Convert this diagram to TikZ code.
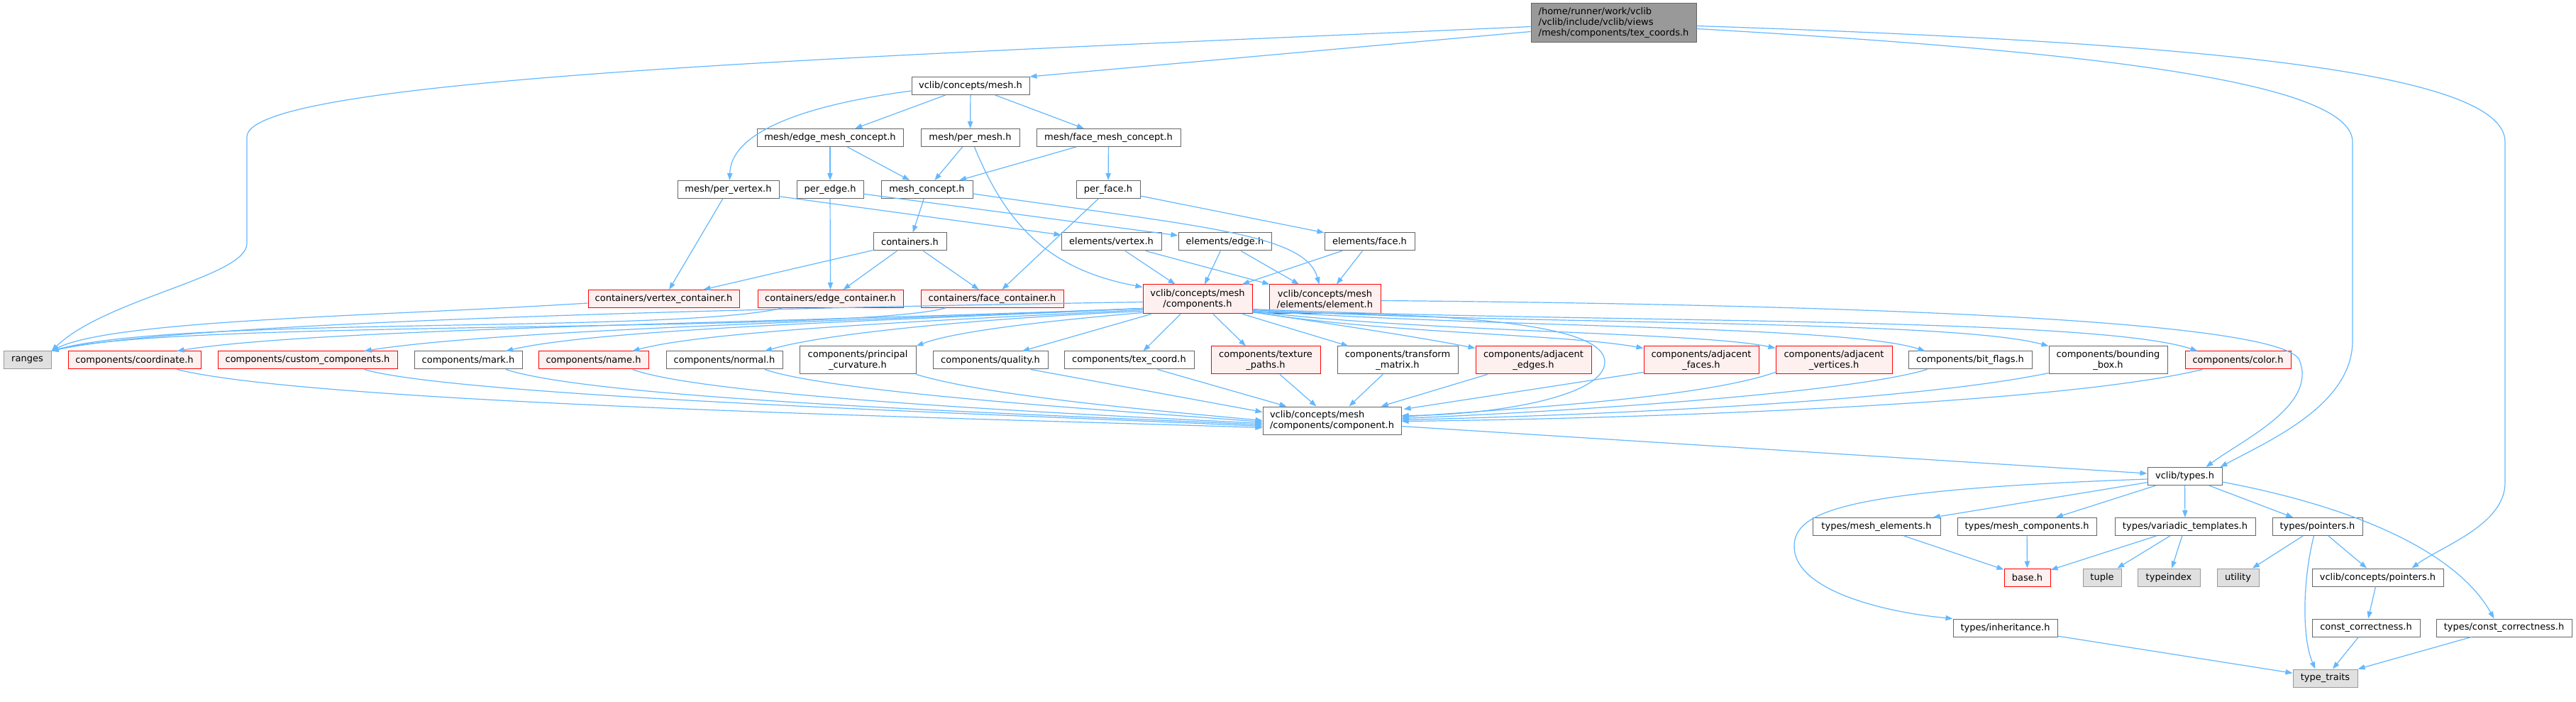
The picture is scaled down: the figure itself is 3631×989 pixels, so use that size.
\documentclass[tikz,border=0pt]{standalone}
\usepackage{fontspec}
\setmainfont{DejaVu Sans}
\usepackage{tikz}
\usetikzlibrary{arrows.meta, calc}
\definecolor{depblue}{HTML}{63B8FF}
\definecolor{fileborder}{HTML}{666666}
\definecolor{redfill}{HTML}{FFF0F0}
\definecolor{sysfill}{HTML}{E0E0E0}
\definecolor{sysborder}{HTML}{999999}
\definecolor{topfill}{HTML}{999999}
\tikzset{
  hfile/.style={rectangle, draw=fileborder, fill=white, line width=0.5pt, font=\fontsize{6.5}{7.5}\selectfont, inner xsep=2pt, inner ysep=1pt, align=center, minimum height=12.5pt},
  redfile/.style={hfile, draw=red, fill=redfill},
  sysfile/.style={hfile, draw=sysborder, fill=sysfill},
  topfile/.style={hfile, fill=topfill, align=left},
  dep/.style={draw=depblue, line width=0.6pt, -{Triangle[length=5pt,width=3.6pt]}},
}

\begin{document}
\begin{tikzpicture}[x=0.5pt, y=-0.5pt]
    \fill[white] (0,0) rectangle (3631,989);
    % included file
    \node[topfile, minimum width=116.5pt, minimum height=27.5pt] (top) at (2274.5,32.5) {/home/runner/work/vclib\\/vclib/include/vclib/views\\/mesh/components/tex\_coords.h};
    % concepts
    \node[hfile, minimum width=83pt] (cmesh) at (1368,121) {vclib/concepts/mesh.h};
    \node[hfile, minimum width=103pt] (edgemc) at (1170,194) {mesh/edge\_mesh\_concept.h};
    \node[hfile, minimum width=69.5pt] (permesh) at (1367.5,194) {mesh/per\_mesh.h};
    \node[hfile, minimum width=101.5pt] (facemc) at (1562.5,194) {mesh/face\_mesh\_concept.h};
    \node[hfile, minimum width=71.5pt] (pervertex) at (1026.5,267) {mesh/per\_vertex.h};
    \node[hfile, minimum width=47pt] (peredge) at (1170,267) {per\_edge.h};
    \node[hfile, minimum width=64.5pt] (meshconcept) at (1306.5,267) {mesh\_concept.h};
    \node[hfile, minimum width=45pt] (perface) at (1562,267) {per\_face.h};
    \node[hfile, minimum width=51.5pt] (containers) at (1282.5,340.5) {containers.h};
    \node[hfile, minimum width=70.5pt] (elvertex) at (1566.5,340.5) {elements/vertex.h};
    \node[hfile, minimum width=65.5pt] (eledge) at (1726.5,340.5) {elements/edge.h};
    \node[hfile, minimum width=63.5pt] (elface) at (1930.5,340.5) {elements/face.h};
    \node[redfile, minimum width=106.5pt] (vertexcont) at (935.5,421) {containers/vertex\_container.h};
    \node[redfile, minimum width=102.5pt] (edgecont) at (1170.5,421) {containers/edge\_container.h};
    \node[redfile, minimum width=100.5pt] (facecont) at (1398.5,421) {containers/face\_container.h};
    \node[redfile, minimum width=77pt, minimum height=20.5pt] (comps) at (1688,421.5) {vclib/concepts/mesh\\/components.h};
    \node[redfile, minimum width=78.5pt, minimum height=20.5pt] (element) at (1867.5,421.5) {vclib/concepts/mesh\\/elements/element.h};
    % components
    \node[sysfile, minimum width=33.5pt] (ranges) at (38.5,507.5) {ranges};
    \node[redfile, minimum width=93.5pt] (coord) at (189.5,507.5) {components/coordinate.h};
    \node[redfile, minimum width=126.5pt] (custom) at (433.5,507.5) {components/custom\_components.h};
    \node[hfile, minimum width=76pt] (mark) at (660,507.5) {components/mark.h};
    \node[redfile, minimum width=77.5pt] (name) at (836.5,507.5) {components/name.h};
    \node[hfile, minimum width=82pt] (normal) at (1021,507.5) {components/normal.h};
    \node[hfile, minimum width=82pt, minimum height=19.5pt] (principal) at (1209,507.5) {components/principal\\\_curvature.h};
    \node[hfile, minimum width=81pt] (quality) at (1396,507.5) {components/quality.h};
    \node[hfile, minimum width=91.5pt] (texcoord) at (1591.5,507.5) {components/tex\_coord.h};
    \node[redfile, minimum width=77pt, minimum height=19.5pt] (texpaths) at (1784,507.5) {components/texture\\\_paths.h};
    \node[hfile, minimum width=85pt, minimum height=19.5pt] (transform) at (1970,507.5) {components/transform\\\_matrix.h};
    \node[redfile, minimum width=81.5pt, minimum height=19.5pt] (adjedges) at (2161.5,507.5) {components/adjacent\\\_edges.h};
    \node[redfile, minimum width=81pt, minimum height=19.5pt] (adjfaces) at (2398,507.5) {components/adjacent\\\_faces.h};
    \node[redfile, minimum width=82pt, minimum height=19.5pt] (adjverts) at (2585,507.5) {components/adjacent\\\_vertices.h};
    \node[hfile, minimum width=87pt] (bitflags) at (2777,507.5) {components/bit\_flags.h};
    \node[hfile, minimum width=83.5pt, minimum height=19.5pt] (bbox) at (2971.5,507.5) {components/bounding\\\_box.h};
    \node[redfile, minimum width=74.5pt] (color) at (3154.5,507.5) {components/color.h};
    \node[hfile, minimum width=97.5pt, minimum height=19.5pt, align=left] (component) at (1877.5,592.5) {vclib/concepts/mesh\\/components/component.h};
    % types
    \node[hfile, minimum width=52.5pt] (types) at (3079.5,671) {vclib/types.h};
    \node[hfile, minimum width=90pt] (meshel) at (2645,742) {types/mesh\_elements.h};
    \node[hfile, minimum width=98pt] (meshcomp) at (2857,742) {types/mesh\_components.h};
    \node[hfile, minimum width=99pt] (variadic) at (3080,742) {types/variadic\_templates.h};
    \node[hfile, minimum width=63.5pt] (pointers) at (3266.5,742) {types/pointers.h};
    \node[redfile, minimum width=32.5pt] (base) at (2857.5,813.5) {base.h};
    \node[sysfile, minimum width=27pt] (tuple) at (2963,813.5) {tuple};
    \node[sysfile, minimum width=44pt] (typeindex) at (3057,813.5) {typeindex};
    \node[sysfile, minimum width=29.5pt] (utility) at (3154.5,813.5) {utility};
    \node[hfile, minimum width=92.5pt] (cpointers) at (3351.5,813.5) {vclib/concepts/pointers.h};
    \node[hfile, minimum width=73.5pt] (inherit) at (2826.5,884.5) {types/inheritance.h};
    \node[hfile, minimum width=76pt] (constcorr) at (3335,884.5) {const\_correctness.h};
    \node[hfile, minimum width=95.5pt] (tconstcorr) at (3529.5,884.5) {types/const\_correctness.h};
    \node[sysfile, minimum width=45.5pt] (typetraits) at (3277.5,955.5) {type\_traits};

    % from the included file
    \draw[dep] ($(top.west)+(0,5)$) .. controls (1200,80) and (348,110) .. (348,193) -- (348,343) .. controls (348,390) and (150,420) .. (ranges.north east);
    \draw[dep] ($(top.west)+(0,12)$) -- (cmesh.north east);
    \draw[dep] ($(top.east)+(0,8)$) .. controls (2900,70) and (3316,110) .. (3316,200) -- (3316,480) .. controls (3316,570) and (3200,620) .. ($(types.north)+(50,0)$);
    \draw[dep] ($(top.east)+(0,4)$) .. controls (3100,60) and (3531,100) .. (3531,200) -- (3531,680) .. controls (3531,740) and (3440,770) .. ($(cpointers.north)+(48,0)$);
    % mesh concepts
    \draw[dep] ($(cmesh.west)+(0,7)$) .. controls (1120,150) and (1030,190) .. ($(pervertex.north)+(2,0)$);
    \draw[dep] (cmesh) -- (edgemc);
    \draw[dep] (cmesh) -- (permesh);
    \draw[dep] (cmesh) -- (facemc);
    \draw[dep] (edgemc) -- (peredge);
    \draw[dep] (edgemc) -- (meshconcept);
    \draw[dep] (permesh) -- (meshconcept);
    \draw[dep] ($(permesh.south)+(6,0)$) .. controls (1420,320) and (1480,380) .. ($(comps.north west)+(0,4)$);
    \draw[dep] (facemc) -- (meshconcept);
    \draw[dep] (facemc) -- (perface);
    \draw[dep] (pervertex) -- (vertexcont);
    \draw[dep] (pervertex) -- (elvertex);
    \draw[dep] (peredge) -- (edgecont);
    \draw[dep] (peredge) -- (eledge);
    \draw[dep] (meshconcept) -- (containers);
    \draw[dep] ($(meshconcept.east)+(0,6)$) .. controls (1700,320) and (1840,330) .. ($(element.north)+(-8,0)$);
    \draw[dep] (perface) -- (facecont);
    \draw[dep] (perface) -- (elface);
    \draw[dep] (containers) -- (vertexcont);
    \draw[dep] (containers) -- (edgecont);
    \draw[dep] (containers) -- (facecont);
    \draw[dep] (elvertex) -- (comps);
    \draw[dep] (elvertex) -- (element);
    \draw[dep] (eledge) -- (comps);
    \draw[dep] (eledge) -- (element);
    \draw[dep] (elface) -- (comps);
    \draw[dep] (elface) -- (element);
    % to ranges
    \draw[dep] ($(vertexcont.west)+(0,6)$) .. controls (550,445) and (160,450) .. (ranges.north east);
    \draw[dep] ($(edgecont.south west)+(35,0)$) .. controls (950,470) and (250,445) .. (ranges.north east);
    \draw[dep] ($(facecont.south west)+(35,0)$) .. controls (1200,470) and (250,450) .. (ranges.north east);
    \draw[dep] ($(comps.west)+(0,4)$) .. controls (1000,435) and (250,455) .. (ranges.north east);
    % components.h to each component
    \draw[dep] ($(comps.south west)+(0,-8)$) .. controls (1100,455) and (450,462) .. ($(coord.north)+(60,0)$);
    \draw[dep] ($(comps.south west)+(0,-8)$) .. controls (1200,452) and (700,465) .. ($(custom.north)+(80,0)$);
    \draw[dep] ($(comps.south west)+(0,-8)$) .. controls (1300,450) and (850,462) .. ($(mark.north)+(53,0)$);
    \draw[dep] ($(comps.south west)+(0,-6)$) .. controls (1350,450) and (1000,465) .. ($(name.north)+(55,0)$);
    \draw[dep] ($(comps.south west)+(0,-4)$) .. controls (1450,445) and (1180,465) .. ($(normal.north)+(57,0)$);
    \draw[dep] ($(comps.south west)+(0,-2)$) .. controls (1500,450) and (1350,465) .. (principal.north east);
    \draw[dep] ($(comps.south west)+(12,0)$) -- ($(quality.north)+(45,0)$);
    \draw[dep] ($(comps.south)+(-24,0)$) -- ($(texcoord.north)+(20,0)$);
    \draw[dep] ($(comps.south)+(22,0)$) -- ($(texpaths.north)+(-28,0)$);
    \draw[dep] ($(comps.south east)+(-14,0)$) -- ($(transform.north west)+(16,0)$);
    \draw[dep] ($(comps.south east)+(0,-3)$) .. controls (1900,460) and (2000,475) .. ($(adjedges.north west)+(0,3)$);
    \draw[dep] ($(comps.south east)+(0,-3)$) .. controls (1950,470) and (2200,470) .. ($(adjfaces.north west)+(0,3)$);
    \draw[dep] ($(comps.south east)+(0,-4)$) .. controls (2000,468) and (2400,468) .. ($(adjverts.north west)+(0,3)$);
    \draw[dep] ($(comps.south east)+(0,-5)$) .. controls (2100,462) and (2600,458) .. ($(bitflags.north west)+(24,0)$);
    \draw[dep] ($(comps.south east)+(0,-6)$) .. controls (2150,458) and (2750,450) .. (bbox.north west);
    \draw[dep] ($(comps.south east)+(0,-7)$) .. controls (2200,455) and (2950,445) .. ($(color.north west)+(18,0)$);
    \draw[dep] ($(comps.south east)+(0,-2)$) .. controls (2150,440) and (2262,470) .. (2262,510) .. controls (2262,560) and (2100,585) .. ($(component.east)+(0,-7)$);
    % each component to component.h
    \draw[dep] ($(coord.south)+(60,0)$) .. controls (450,570) and (1400,590) .. ($(component.west)+(0,10)$);
    \draw[dep] ($(custom.south)+(80,0)$) .. controls (650,560) and (1450,585) .. ($(component.west)+(0,8)$);
    \draw[dep] ($(mark.south)+(53,0)$) .. controls (850,565) and (1500,585) .. ($(component.west)+(0,6)$);
    \draw[dep] ($(name.south)+(55,0)$) .. controls (1000,560) and (1550,585) .. ($(component.west)+(0,4)$);
    \draw[dep] ($(normal.south)+(57,0)$) .. controls (1180,555) and (1600,580) .. ($(component.west)+(0,2)$);
    \draw[dep] (principal.south east) .. controls (1400,560) and (1650,580) .. (component.west);
    \draw[dep] ($(quality.south)+(57,0)$) -- ($(component.west)+(0,-12)$);
    \draw[dep] ($(texcoord.south)+(40,0)$) -- ($(component.north west)+(34,0)$);
    \draw[dep] ($(texpaths.south)+(20,0)$) -- ($(component.north)+(-22,0)$);
    \draw[dep] ($(transform.south)+(-21,0)$) -- ($(component.north)+(24,0)$);
    \draw[dep] ($(adjedges.south west)+(17,0)$) -- ($(component.north east)+(-29,0)$);
    \draw[dep] ($(adjfaces.south west)+(0,-3)$) -- ($(component.north east)+(3,4)$);
    \draw[dep] ($(adjverts.south west)+(0,-3)$) .. controls (2400,560) and (2150,575) .. ($(component.east)+(0,-5)$);
    \draw[dep] ($(bitflags.south west)+(27,0)$) .. controls (2600,555) and (2200,580) .. ($(component.east)+(0,-3)$);
    \draw[dep] ($(bbox.south west)+(0,-2)$) .. controls (2700,565) and (2250,585) .. ($(component.east)+(0,-1)$);
    \draw[dep] ($(color.south west)+(25,0)$) .. controls (2900,570) and (2300,590) .. ($(component.east)+(0,1)$);
    % to vclib/types.h
    \draw[dep] ($(component.east)+(0,8)$) -- ($(types.west)+(0,-4)$);
    \draw[dep] ($(element.east)+(0,2)$) .. controls (2700,430) and (3200,455) .. (3240,505) .. controls (3270,570) and (3160,620) .. ($(types.north)+(30,0)$);
    % types
    \draw[dep] (types) -- (meshel);
    \draw[dep] (types) -- (meshcomp);
    \draw[dep] (types) -- (variadic);
    \draw[dep] (types) -- (pointers);
    \draw[dep] ($(types.west)+(0,4)$) .. controls (2600,690) and (2529,720) .. (2529,770) .. controls (2529,830) and (2650,862) .. (inherit.north west);
    \draw[dep] ($(types.east)+(0,8)$) .. controls (3350,720) and (3470,790) .. ($(tconstcorr.north)+(-14,0)$);
    \draw[dep] (meshel) -- (base);
    \draw[dep] (meshcomp) -- (base);
    \draw[dep] (variadic) -- (base);
    \draw[dep] (variadic) -- (tuple);
    \draw[dep] (variadic) -- (typeindex);
    \draw[dep] (pointers) -- (utility);
    \draw[dep] ($(pointers.south)+(-5,0)$) .. controls (3245,820) and (3245,900) .. ($(typetraits.north)+(-14,0)$);
    \draw[dep] (pointers) -- (cpointers);
    \draw[dep] (cpointers) -- (constcorr);
    \draw[dep] (constcorr) -- (typetraits);
    \draw[dep] (tconstcorr) -- (typetraits);
    \draw[dep] (inherit) -- (typetraits);
\end{tikzpicture}
\end{document}
